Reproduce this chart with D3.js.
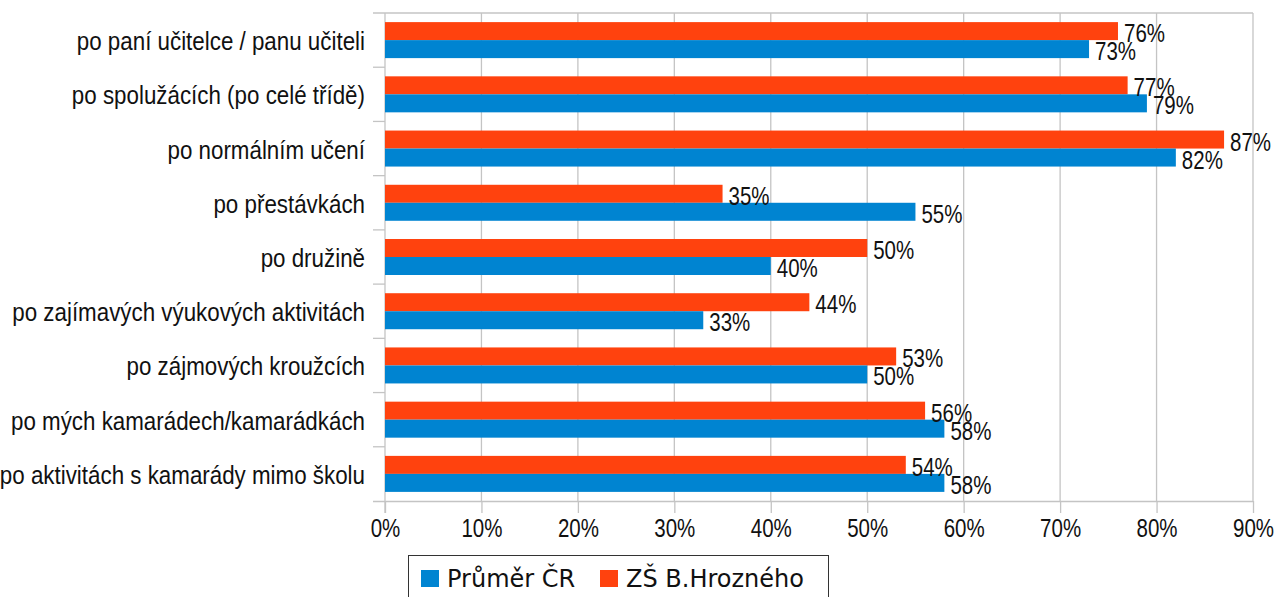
<!DOCTYPE html>
<html>
<head>
<meta charset="utf-8">
<script src="https://cdn.jsdelivr.net/npm/d3@7"></script>
<style>
  html, body { margin: 0; padding: 0; background: #ffffff; }
  svg { display: block; }
</style>
</head>
<body>
<svg id="chart" width="1278" height="597"></svg>
<script>
const categories = [
  "po paní učitelce / panu učiteli",
  "po spolužácích (po celé třídě)",
  "po normálním učení",
  "po přestávkách",
  "po družině",
  "po zajímavých výukových aktivitách",
  "po zájmových kroužcích",
  "po mých kamarádech/kamarádkách",
  "po aktivitách s kamarády mimo školu"
];
const seriesNames = ["ZŠ B.Hrozného", "Průměr ČR"];
const zsHrozneho = [76, 77, 87, 35, 50, 44, 53, 56, 54];
const prumerCR = [73, 79, 82, 55, 40, 33, 50, 58, 58];
const xTicks = [0, 10, 20, 30, 40, 50, 60, 70, 80, 90];
const legendOrder = ["Průměr ČR", "ZŠ B.Hrozného"];

const colors = { "Průměr ČR": "#0084d1", "ZŠ B.Hrozného": "#ff420e" };
const valuesBySeries = { "Průměr ČR": prumerCR, "ZŠ B.Hrozného": zsHrozneho };

const svg = d3.select("#chart");
svg.append("rect").attr("width", 1278).attr("height", 597).attr("fill", "#fff");

const pLeft = 385, pRight = 1253, pTop = 13, pBottom = 501;
const gridColor = "#c4c4c4";
const font = "'Liberation Sans', Arial, sans-serif";
const numScale = 0.82, catScale = 0.86;

const x = d3.scaleLinear().domain([0, 90]).range([pLeft, pRight]);
const y = d3.scaleBand().domain(categories).range([pTop, pBottom])
  .paddingInner(0.336).paddingOuter(0.168);
const ySub = d3.scaleBand().domain(seriesNames).range([0, y.bandwidth()]);
const step = y.step();

// vertical gridlines
svg.append("g").selectAll("line").data(xTicks.slice(1)).join("line")
  .attr("x1", d => x(d)).attr("x2", d => x(d))
  .attr("y1", pTop).attr("y2", pBottom)
  .attr("stroke", gridColor).attr("stroke-width", 1.3);

// top border
svg.append("line").attr("x1", pLeft - 12).attr("x2", pRight)
  .attr("y1", pTop).attr("y2", pTop).attr("stroke", gridColor).attr("stroke-width", 1.3);

// bottom axis
const xAxis = d3.axisBottom(x).tickValues(xTicks).tickFormat(d => d + "%")
  .tickSizeInner(12).tickSizeOuter(0).tickPadding(10);
const gx = svg.append("g").attr("transform", `translate(0,${pBottom})`).call(xAxis);
gx.select(".domain").attr("stroke", gridColor).attr("stroke-width", 1.3)
  .attr("d", `M${pLeft - 12},0.5H${pRight}`);
gx.selectAll(".tick line").attr("stroke", gridColor).attr("stroke-width", 1.3);
gx.selectAll(".tick text").attr("font-family", font).attr("font-size", 25)
  .attr("fill", "#111").attr("dy", "0.55em")
  .attr("transform", `scale(${numScale},1)`);

// left axis line and boundary ticks
svg.append("line").attr("x1", pLeft).attr("x2", pLeft).attr("y1", pTop).attr("y2", pBottom + 12)
  .attr("stroke", gridColor).attr("stroke-width", 1.3);
svg.append("g").selectAll("line").data(d3.range(1, categories.length)).join("line")
  .attr("x1", pLeft - 12).attr("x2", pLeft)
  .attr("y1", i => pTop + i * step).attr("y2", i => pTop + i * step)
  .attr("stroke", gridColor).attr("stroke-width", 1.3);

// category labels
svg.append("g").selectAll("text").data(categories).join("text")
  .attr("transform", d => `translate(${pLeft - 20},${y(d) + y.bandwidth() / 2 + 10}) scale(${catScale},1)`)
  .attr("text-anchor", "end")
  .attr("font-family", font).attr("font-size", 26).attr("fill", "#111")
  .text(d => d);

// bars
const rows = [];
categories.forEach((c, i) => {
  seriesNames.forEach(s => rows.push({ cat: c, series: s, value: valuesBySeries[s][i] }));
});

svg.append("g").selectAll("rect").data(rows).join("rect")
  .attr("x", x(0))
  .attr("y", d => y(d.cat) + ySub(d.series))
  .attr("width", d => x(d.value) - x(0))
  .attr("height", ySub.bandwidth())
  .attr("fill", d => colors[d.series]);

svg.append("g").selectAll("text").data(rows).join("text")
  .attr("transform", d => `translate(${x(d.value) + 6},${y(d.cat) + ySub(d.series) + ySub.bandwidth() / 2 + 11}) scale(${numScale},1)`)
  .attr("font-family", font).attr("font-size", 25).attr("fill", "#111")
  .text(d => d.value + "%");

// legend
const lg = svg.append("g");
lg.append("rect").attr("x", 408.5).attr("y", 555.5).attr("width", 420).attr("height", 60)
  .attr("fill", "#fff").attr("stroke", "#333").attr("stroke-width", 1);
const legendX = [421, 600];
legendOrder.forEach((s, i) => {
  lg.append("rect").attr("x", legendX[i]).attr("y", 570).attr("width", 18).attr("height", 17)
    .attr("fill", colors[s]);
  lg.append("text").attr("x", legendX[i] + 26).attr("y", 587)
    .attr("font-family", "'DejaVu Sans', sans-serif").attr("font-size", 24).attr("fill", "#111")
    .text(s);
});
</script>
</body>
</html>
